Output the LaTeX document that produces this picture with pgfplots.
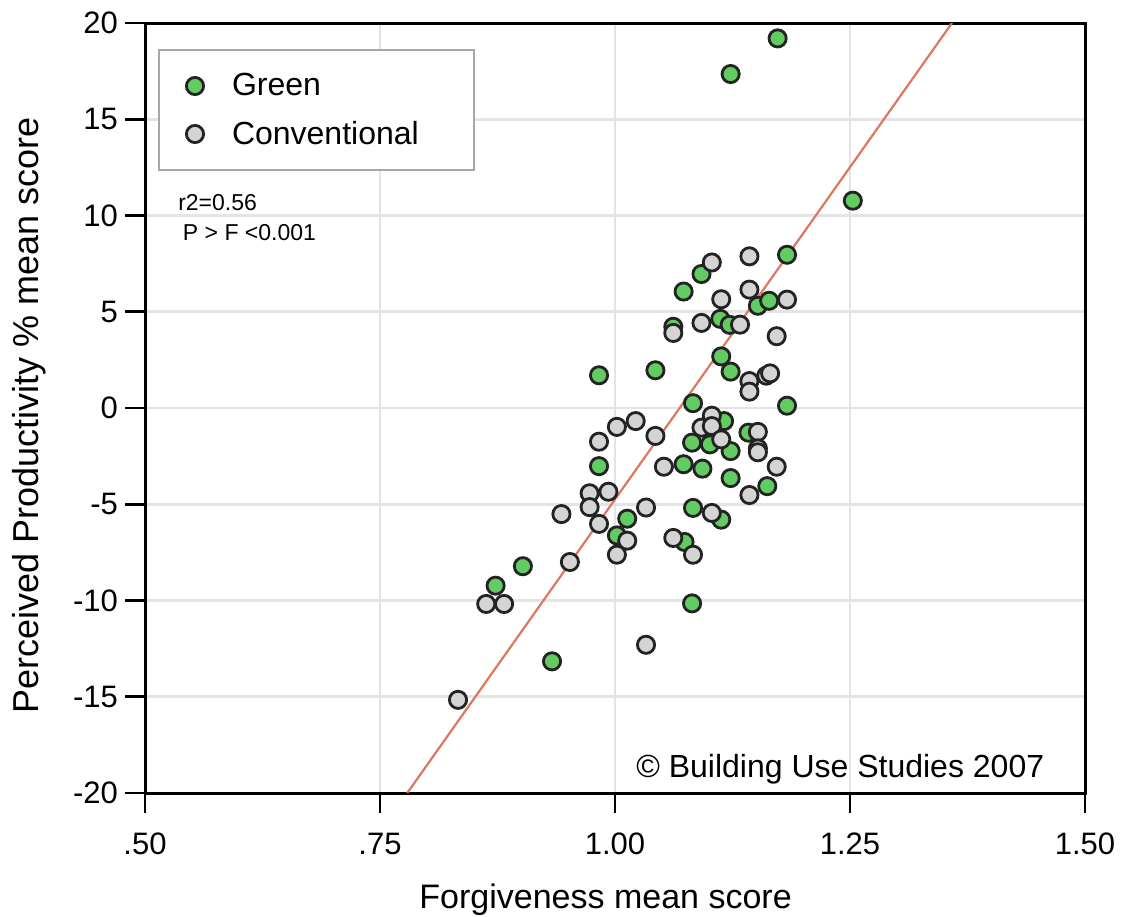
\documentclass[border=0pt]{standalone}
\usepackage{fontspec}
\setmainfont{Liberation Sans}
\usepackage{pgfplots}
\pgfplotsset{compat=1.18}
\definecolor{greenfill}{RGB}{98,204,98}
\definecolor{grayfill}{RGB}{212,212,212}
\definecolor{edge}{RGB}{35,35,35}
\definecolor{fitline}{RGB}{220,120,95}
\definecolor{gridc}{RGB}{228,228,228}
\pgfplotsset{mylegend/.style={legend image code/.code={\path[draw=none,fill=none] (0bp,-12bp) rectangle (28bp,12bp);
    \draw[##1] plot coordinates {(18bp,0bp)};}}}
\begin{document}
\begin{tikzpicture}
\begin{axis}[
  at={(72.5bp,62bp)}, anchor=south west,
  scale only axis, width=470bp, height=385bp,
  xmin=0.5, xmax=1.5, ymin=-20, ymax=20,
  xtick={0.5,0.75,1,1.25,1.5}, xticklabels={.50,.75,1.00,1.25,1.50},
  ytick={-20,-15,-10,-5,0,5,10,15,20}, yticklabels={-20,-15,-10,-5,0,5,10,15,20},
  xtick pos=bottom, ytick pos=left,
  tick align=outside, major tick length=10bp,
  every major tick/.append style={draw=black, line width=1.4bp},
  major tick style={draw=black, line width=1.4bp},
  axis line style={black, line width=1.5bp},
  grid=major, grid style={draw=gridc, line width=1.4bp},
  ticklabel style={font=\fontsize{15.5bp}{18bp}\selectfont},
  xticklabel style={yshift=-6.5bp},
  xlabel={Forgiveness mean score},
  ylabel={Perceived Productivity \% mean score},
  xlabel style={font=\fontsize{17bp}{20bp}\selectfont, at={(axis description cs:0.49,-0.139)}, anchor=center},
  ylabel style={font=\fontsize{18bp}{21bp}\selectfont, at={(axis description cs:-0.123,0.49)}, anchor=center},
  legend style={at={(0,1)}, anchor=north west, xshift=6.5bp, yshift=-13bp,
    draw=gray!70, line width=1bp, fill=white, inner xsep=0bp, inner ysep=6bp,
    row sep=0bp, font=\fontsize{16bp}{19bp}\selectfont,
    nodes={inner sep=0bp},
    /tikz/every odd column/.append style={column sep=8.5bp}},
  legend cell align=left,
  clip=true,
]
\addplot[only marks, mark=*, mark size=4.3bp,
  mark options={draw=edge, line width=1.4bp, fill=greenfill}, mylegend]
coordinates {
(1.173,19.2) (1.123,17.35) (1.253,10.77) (1.183,7.96) (1.092,6.96)
(1.073,6.05) (1.152,5.31) (1.164,5.57) (1.112,4.63) (1.122,4.32)
(1.062,4.22) (1.113,2.68) (1.123,1.89) (0.983,1.70) (1.043,1.96)
(1.083,0.25) (1.183,0.12) (1.116,-0.68) (1.082,-1.80) (1.101,-1.89)
(1.123,-2.24) (1.142,-1.28) (0.983,-3.02) (1.073,-2.92) (1.093,-3.15)
(1.123,-3.64) (1.162,-4.06) (1.013,-5.75) (1.083,-5.19) (1.113,-5.80)
(1.002,-6.62) (1.074,-6.96) (1.082,-10.15) (0.902,-8.22) (0.873,-9.23)
(0.933,-13.16)
};
\addlegendentry{\makebox[121bp][l]{Green}}
\addplot[only marks, mark=*, mark size=4.3bp,
  mark options={draw=edge, line width=1.4bp, fill=grayfill}, mylegend]
coordinates {
(1.103,7.56) (1.143,7.88) (1.143,6.15) (1.113,5.65) (1.183,5.63)
(1.092,4.42) (1.133,4.33) (1.062,3.90) (1.172,3.73) (1.143,1.40)
(1.143,0.85) (1.161,1.68) (1.165,1.80) (1.002,-0.98) (1.022,-0.68)
(1.043,-1.45) (0.983,-1.75) (1.103,-0.40) (1.092,-1.02) (1.103,-0.94)
(1.113,-1.63) (1.152,-1.24) (1.152,-2.10) (1.152,-2.30) (1.052,-3.05)
(1.172,-3.05) (1.143,-4.52) (0.973,-4.43) (0.993,-4.35) (0.973,-5.15)
(0.943,-5.51) (0.983,-6.02) (1.033,-5.17) (1.103,-5.45) (1.013,-6.89)
(1.002,-7.62) (1.062,-6.75) (1.083,-7.62) (0.952,-8.00) (0.863,-10.18)
(0.882,-10.18) (1.033,-12.30) (0.833,-15.16)
};
\addlegendentry{\makebox[121bp][l]{Conventional}}
\addplot[no marks, fitline, line width=1.1bp, forget plot]
coordinates {(0.779,-20) (1.3585,20)};
\node[anchor=west, font=\fontsize{11.5bp}{14bp}\selectfont, inner sep=0pt]
  at (axis cs:0.535,10.67) {r2=0.56};
\node[anchor=west, font=\fontsize{11.5bp}{14bp}\selectfont, inner sep=0pt]
  at (axis cs:0.540,9.1) {P > F <0.001};
\node[anchor=east, font=\fontsize{16bp}{19bp}\selectfont, inner sep=0pt]
  at (axis cs:1.457,-18.78) {© Building Use Studies 2007};
\end{axis}
\pgfresetboundingbox
\path (0,0) rectangle (563bp,458.5bp);
\end{tikzpicture}
\end{document}
